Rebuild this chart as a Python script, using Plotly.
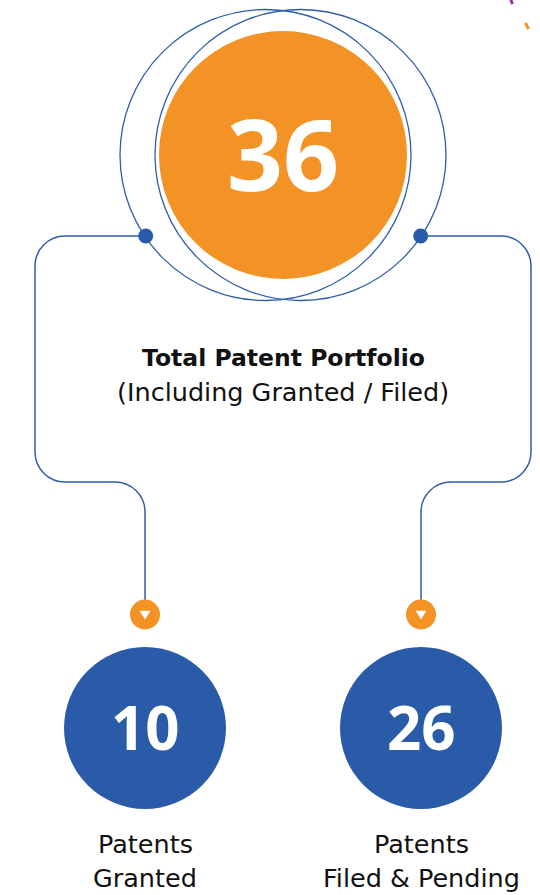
import plotly.graph_objects as go

# ---- data ----
total_value = [36]
total_title = ["Total Patent Portfolio"]
total_subtitle = ["(Including Granted / Filed)"]
split_values = [10, 26]
split_labels = [["Patents", "Granted"], ["Patents", "Filed & Pending"]]

ORANGE = "#F39325"
BLUE = "#2A5BA8"
LINE = "#2F5EAB"
NUMFONT = "Open Sans"
FONT = "DejaVu Sans"

W, H = 540, 895
fig = go.Figure()
shapes = []
ann = []

def circle(cx, cy, r, fill=None, line=None, lw=0):
    d = dict(type="circle", xref="x", yref="y", x0=cx - r, x1=cx + r, y0=cy - r, y1=cy + r,
             layer="above")
    d["fillcolor"] = fill if fill else "rgba(0,0,0,0)"
    d["line"] = dict(color=line if line else "rgba(0,0,0,0)", width=lw)
    shapes.append(d)

def rounded_path(pts, r):
    k = 0.5523
    s = f"M {pts[0][0]},{pts[0][1]}"
    for i in range(1, len(pts) - 1):
        ax, ay = pts[i - 1]; px, py = pts[i]; bx, by = pts[i + 1]
        def unit(x, y):
            n = (x * x + y * y) ** 0.5
            return x / n, y / n
        ux, uy = unit(ax - px, ay - py)
        vx, vy = unit(bx - px, by - py)
        p1 = (px + ux * r, py + uy * r)
        p2 = (px + vx * r, py + vy * r)
        c1 = (p1[0] + k * (px - p1[0]), p1[1] + k * (py - p1[1]))
        c2 = (p2[0] + k * (px - p2[0]), p2[1] + k * (py - p2[1]))
        s += f" L {p1[0]},{p1[1]} C {c1[0]},{c1[1]} {c2[0]},{c2[1]} {p2[0]},{p2[1]}"
    s += f" L {pts[-1][0]},{pts[-1][1]}"
    return s

# connectors
CX, CY = 283, 155
bottom_x = [145, 421]
dot_x = [145.7, 420.7]
side_x = [35, 531]
for i in range(2):
    pts = [(dot_x[i], 236), (side_x[i], 236), (side_x[i], 482), (bottom_x[i], 482), (bottom_x[i], 600)]
    shapes.append(dict(type="path", xref="x", yref="y", path=rounded_path(pts, 30),
                       line=dict(color=LINE, width=1.5), layer="above"))

# outline rings
circle(CX - 17.5, CY, 145.5, line=LINE, lw=1.3)
circle(CX + 17.5, CY, 145.5, line=LINE, lw=1.3)
# main orange circle
circle(CX, CY, 124, fill=ORANGE)
# dots
for x in dot_x:
    circle(x, 236, 7.5, fill=BLUE)

# small orange arrow circles + triangles
for x in bottom_x:
    circle(x, 614.5, 15, fill=ORANGE)
    shapes.append(dict(type="path", xref="x", yref="y",
                       path=f"M {x-5},{611} L {x+5},{611} L {x},{619} Z",
                       fillcolor="white", line=dict(color="white", width=0.5), layer="above"))

# big blue circles
for x in bottom_x:
    circle(x, 728, 81, fill=BLUE)

# decorative strokes top-right
shapes.append(dict(type="line", xref="x", yref="y", x0=510.5, y0=-1, x1=512.5, y1=4,
                   line=dict(color="#8E3A9D", width=3), layer="above"))
shapes.append(dict(type="line", xref="x", yref="y", x0=525.5, y0=23, x1=528.5, y1=29,
                   line=dict(color=ORANGE, width=3), layer="above"))

# texts
ann.append(dict(x=CX, y=153, text=f"<b>{total_value[0]}</b>",
                font=dict(family=NUMFONT, size=98, color="white")))
ann.append(dict(x=CX, y=358, text=f"<b>{total_title[0]}</b>",
                font=dict(family=FONT, size=23.5, color="#111111")))
ann.append(dict(x=CX, y=392, text=total_subtitle[0],
                font=dict(family=FONT, size=25.5, color="#111111")))
for i, x in enumerate(bottom_x):
    ann.append(dict(x=x, y=727, text=f"<b>{split_values[i]}</b>",
                    font=dict(family=NUMFONT, size=60, color="white")))
    ann.append(dict(x=x, y=844, text=split_labels[i][0],
                    font=dict(family=FONT, size=25.5, color="#111111")))
    ann.append(dict(x=x, y=878, text=split_labels[i][1],
                    font=dict(family=FONT, size=25.5, color="#111111")))
for a in ann:
    a.update(xref="x", yref="y", showarrow=False, xanchor="center", yanchor="middle")

fig.update_layout(
    width=W, height=H, margin=dict(l=0, r=0, t=0, b=0),
    paper_bgcolor="white", plot_bgcolor="white",
    xaxis=dict(range=[0, W], visible=False, fixedrange=True),
    yaxis=dict(range=[H, 0], visible=False, fixedrange=True),
    shapes=shapes, annotations=ann, showlegend=False,
)
fig.write_html("out.html", config={"displayModeBar": False},
               post_script="document.body.style.margin='0';document.body.style.overflow='hidden';")
